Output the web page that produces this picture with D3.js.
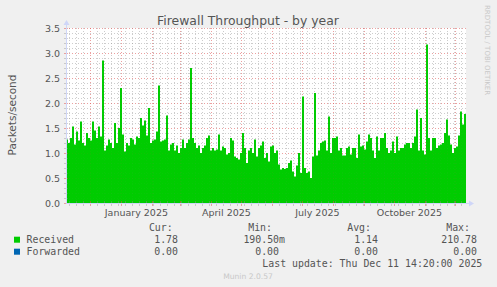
<!DOCTYPE html>
<html>
<head>
<meta charset="utf-8">
<script src="https://cdn.jsdelivr.net/npm/d3@7"></script>
<style>
  html, body { margin: 0; padding: 0; background: #F0F0F0; }
  svg { display: block; }
  text { font-family: "DejaVu Sans", sans-serif; fill: #555; }
  .mono { font-family: "DejaVu Sans Mono", monospace; }
</style>
</head>
<body>
<script>
// ---------------- data ----------------
const title = "Firewall Throughput - by year";
const yLabel = "Packets/second";
const periodStart = "2024-11-06T14:20:00Z";
const periodEnd = "2025-12-11T14:20:00Z";
const sampleDays = 2; // one value per two days
const yTicks = [0.0, 0.5, 1.0, 1.5, 2.0, 2.5, 3.0, 3.5];
const xLabels = ["January 2025", "April 2025", "July 2025", "October 2025"];
const xLabelMonths = ["2025-01-01", "2025-04-01", "2025-07-01", "2025-10-01"];

const received = [
  1.27, 1.20, 1.30, 1.53, 1.17, 1.43, 1.25, 1.63, 1.20, 1.15,
  1.40, 1.30, 1.25, 1.63, 1.45, 1.30, 1.53, 1.33, 2.85, 1.05,
  1.15, 1.27, 1.20, 1.10, 1.60, 1.20, 1.50, 2.30, 1.37, 1.03,
  1.20, 1.15, 1.30, 1.27, 1.17, 1.33, 1.30, 1.70, 1.55, 1.65,
  1.35, 1.90, 1.20, 1.25, 1.27, 1.43, 2.35, 1.23, 1.25, 1.27,
  1.75, 1.05, 1.17, 1.20, 1.05, 1.15, 1.00, 1.10, 1.27, 1.10,
  1.20, 1.27, 2.70, 1.30, 1.20, 1.10, 1.15, 1.00, 1.10, 1.15,
  1.30, 1.35, 1.05, 1.10, 1.05, 1.07, 1.37, 1.05, 1.13, 1.10,
  0.97, 1.00, 1.30, 1.25, 0.93, 0.90, 0.87, 1.00, 1.40, 1.10,
  0.80, 1.05, 1.10, 1.00, 1.27, 0.93, 1.10, 1.15, 1.23, 0.90,
  1.00, 0.83, 1.13, 1.15, 1.00, 1.05, 0.77, 0.67, 0.70, 0.68,
  0.70, 0.80, 0.85, 0.63, 0.53, 0.75, 1.00, 0.60, 2.13, 0.70,
  0.60, 0.63, 0.50, 0.93, 2.20, 0.95, 1.05, 1.20, 1.23, 1.25,
  1.05, 1.73, 1.00, 1.30, 1.30, 1.33, 1.05, 1.10, 0.95, 0.95,
  1.10, 1.13, 0.97, 1.10, 1.10, 0.90, 1.37, 1.13, 1.15, 1.07,
  1.23, 1.37, 1.30, 1.05, 0.90, 1.33, 1.05, 1.30, 1.30, 1.40,
  1.10, 1.00, 1.05, 1.23, 1.00, 1.33, 1.05, 1.10, 1.10, 1.17,
  1.20, 1.20, 1.10, 1.20, 1.33, 1.87, 1.05, 1.70, 1.05, 0.97,
  3.17, 1.30, 1.05, 1.30, 1.30, 1.10, 1.15, 1.17, 1.20, 1.40,
  1.67, 1.35, 1.17, 1.00, 1.10, 1.13, 1.35, 1.83, 1.57, 1.78
];
const forwarded = received.map(() => 0);

const legendSeries = ["Received", "Forwarded"];
const legendColors = ["#00CC00", "#0066B3"];
const legendHeaders = ["Cur:", "Min:", "Avg:", "Max:"];
const legendValues = [
  ["1.78", "190.50m", "1.14", "210.78"],
  ["0.00", "0.00", "0.00", "0.00"]
];
const lastUpdate = "Last update: Thu Dec 11 14:20:00 2025";
const footer = "Munin 2.0.57";
const sideText = "RRDTOOL / TOBI OETIKER";

// ---------------- layout ----------------
const W = 497, H = 287;
const plot = { left: 66, right: 466, top: 28, bottom: 203 };

const svg = d3.select("body").append("svg").attr("width", W).attr("height", H);
svg.append("rect").attr("width", W).attr("height", H).attr("fill", "#F0F0F0");

const t0 = new Date(periodStart), t1 = new Date(periodEnd);
const x = d3.scaleUtc().domain([t0, t1]).range([plot.left, plot.right]);
const y = d3.scaleLinear().domain([0, 3.5]).range([plot.bottom, plot.top]);

// canvas
svg.append("rect").attr("x", plot.left).attr("y", plot.top)
  .attr("width", plot.right - plot.left).attr("height", plot.bottom - plot.top)
  .attr("fill", "#FFFFFF");

const DAY = 86400000;
const pts = received.map((v, i) => ({ t: new Date(t0.getTime() + i * sampleDays * DAY), v, f: forwarded[i] }));
pts.push({ t: t1, v: received[received.length - 1], f: 0 });

const minorY = d3.range(0, 35.01, 1).map(d => d / 10).filter(d => Math.round(d * 10) % 5 !== 0);
const majorY = yTicks;
const weeks = d3.utcSunday.range(t0, t1).filter(d => d.getUTCDate() !== 1);
const months = d3.utcMonth.range(t0, t1);

const minorCol = "rgba(143,143,143,0.40)";
const majorCol = "rgba(222,79,79,0.50)";

function drawGrid(g, opacity) {
  g.selectAll(".hmin").data(minorY).join("line")
    .attr("x1", plot.left).attr("x2", plot.right + 2)
    .attr("y1", d => Math.round(y(d)) + 0.5).attr("y2", d => Math.round(y(d)) + 0.5)
    .attr("stroke", minorCol).attr("stroke-dasharray", "1,2").attr("opacity", opacity);
  g.selectAll(".vmin").data(weeks).join("line")
    .attr("x1", d => Math.round(x(d)) + 0.5).attr("x2", d => Math.round(x(d)) + 0.5)
    .attr("y1", plot.top).attr("y2", plot.bottom)
    .attr("stroke", minorCol).attr("stroke-dasharray", "1,2").attr("opacity", opacity);
  g.selectAll(".hmaj").data(majorY.filter(d => d > 0)).join("line")
    .attr("x1", plot.left).attr("x2", plot.right + 2)
    .attr("y1", d => Math.round(y(d)) + 0.5).attr("y2", d => Math.round(y(d)) + 0.5)
    .attr("stroke", majorCol).attr("stroke-dasharray", "1,2").attr("opacity", opacity);
  g.selectAll(".vmaj").data(months).join("line")
    .attr("x1", d => Math.round(x(d)) + 0.5).attr("x2", d => Math.round(x(d)) + 0.5)
    .attr("y1", plot.top).attr("y2", plot.bottom)
    .attr("stroke", majorCol).attr("stroke-dasharray", "1,2").attr("opacity", opacity);
}

drawGrid(svg.append("g"), 1);

// area
const area = d3.area().curve(d3.curveStepAfter)
  .x(d => x(d.t)).y0(y(0)).y1(d => y(d.v));
svg.append("path").datum(pts).attr("d", area).attr("fill", "#00CC00");
const area2 = d3.area().curve(d3.curveStepAfter)
  .x(d => x(d.t)).y0(d => y(d.v)).y1(d => y(d.v + d.f));
svg.append("path").datum(pts).attr("d", area2).attr("fill", "#0066B3");

// faint grid over data
drawGrid(svg.append("g"), 0.15);

// axes
const axisColor = "#CFD6F8";
svg.append("g").selectAll("line").data(minorY.concat(majorY)).join("line")
  .attr("x1", plot.left - 2).attr("x2", plot.left + 2)
  .attr("y1", d => Math.round(y(d)) + 0.5).attr("y2", d => Math.round(y(d)) + 0.5)
  .attr("stroke", d => majorY.includes(d) ? majorCol : minorCol);
svg.append("g").selectAll("line").data(weeks).join("line")
  .attr("x1", d => Math.round(x(d)) + 0.5).attr("x2", d => Math.round(x(d)) + 0.5)
  .attr("y1", plot.bottom - 2).attr("y2", plot.bottom + 3)
  .attr("stroke", minorCol);
svg.append("g").selectAll("line").data(months).join("line")
  .attr("x1", d => Math.round(x(d)) + 0.5).attr("x2", d => Math.round(x(d)) + 0.5)
  .attr("y1", plot.bottom - 2).attr("y2", plot.bottom + 3)
  .attr("stroke", majorCol);

svg.append("line").attr("x1", plot.left + 0.5).attr("x2", plot.left + 0.5)
  .attr("y1", plot.bottom).attr("y2", plot.top - 4).attr("stroke", axisColor);
svg.append("line").attr("x1", plot.left).attr("x2", plot.right + 4)
  .attr("y1", plot.bottom + 0.5).attr("y2", plot.bottom + 0.5).attr("stroke", axisColor);
svg.append("path").attr("d", `M${plot.left - 2.5},${plot.top - 3} L${plot.left + 3.5},${plot.top - 3} L${plot.left + 0.5},${plot.top - 8} Z`).attr("fill", axisColor);
svg.append("path").attr("d", `M${plot.right + 3},${plot.bottom - 2.5} L${plot.right + 3},${plot.bottom + 3.5} L${plot.right + 8},${plot.bottom + 0.5} Z`).attr("fill", axisColor);

// y tick labels
svg.append("g").selectAll("text").data(yTicks).join("text")
  .attr("x", 60).attr("y", d => y(d) + 3.5)
  .attr("text-anchor", "end").attr("font-size", "9.5px")
  .text(d3.format(".1f"));

// x labels centered mid-month
svg.append("g").selectAll("text").data(xLabels).join("text")
  .attr("x", (d, i) => {
    const m = new Date(xLabelMonths[i] + "T00:00:00Z");
    return x(new Date(m.getTime() + 15 * DAY));
  })
  .attr("y", 216).attr("text-anchor", "middle").attr("font-size", "9.5px")
  .text(d => d);

// title
svg.append("text").attr("x", 248).attr("y", 24.5).attr("text-anchor", "middle")
  .attr("font-size", "12.4px").text(title);

// y label
svg.append("text").attr("transform", "translate(15.5,115) rotate(-90)")
  .attr("text-anchor", "middle").attr("font-size", "10.5px").text(yLabel);

// side text
svg.append("text").attr("transform", "translate(485,5) rotate(90)")
  .attr("text-anchor", "start").attr("font-size", "7px").style("fill", "#c8c8c8").text(sideText);

// legend
const headerEnds = [172.7, 272, 371, 470];
const valueEnds = [178, 285, 378, 477];
const rowBase = [243.3, 255.3];
svg.append("g").selectAll("text").data(legendHeaders).join("text")
  .attr("class", "mono").attr("x", (d, i) => headerEnds[i]).attr("y", 230.7)
  .attr("text-anchor", "end").attr("font-size", "9.9px").text(d => d);
legendSeries.forEach((name, r) => {
  svg.append("rect").attr("x", 14).attr("y", rowBase[r] - 6.6).attr("width", 6).attr("height", 6)
    .attr("fill", legendColors[r]);
  svg.append("text").attr("class", "mono").attr("x", 26.5).attr("y", rowBase[r])
    .attr("font-size", "9.9px").text(name);
  legendValues[r].forEach((v, c) => {
    const hasSuffix = /[a-zA-Z]$/.test(v);
    svg.append("text").attr("class", "mono")
      .attr("x", valueEnds[c] - (hasSuffix || c !== 1 ? 0 : 6))
      .attr("y", rowBase[r]).attr("text-anchor", "end").attr("font-size", "9.9px").text(v);
  });
});
svg.append("text").attr("class", "mono").attr("x", 482.3).attr("y", 266.7)
  .attr("text-anchor", "end").attr("font-size", "9.9px").text(lastUpdate);
svg.append("text").attr("x", 248).attr("y", 279.3).attr("text-anchor", "middle")
  .attr("font-size", "7.6px").style("fill", "#c8c8c8").text(footer);
</script>
</body>
</html>
